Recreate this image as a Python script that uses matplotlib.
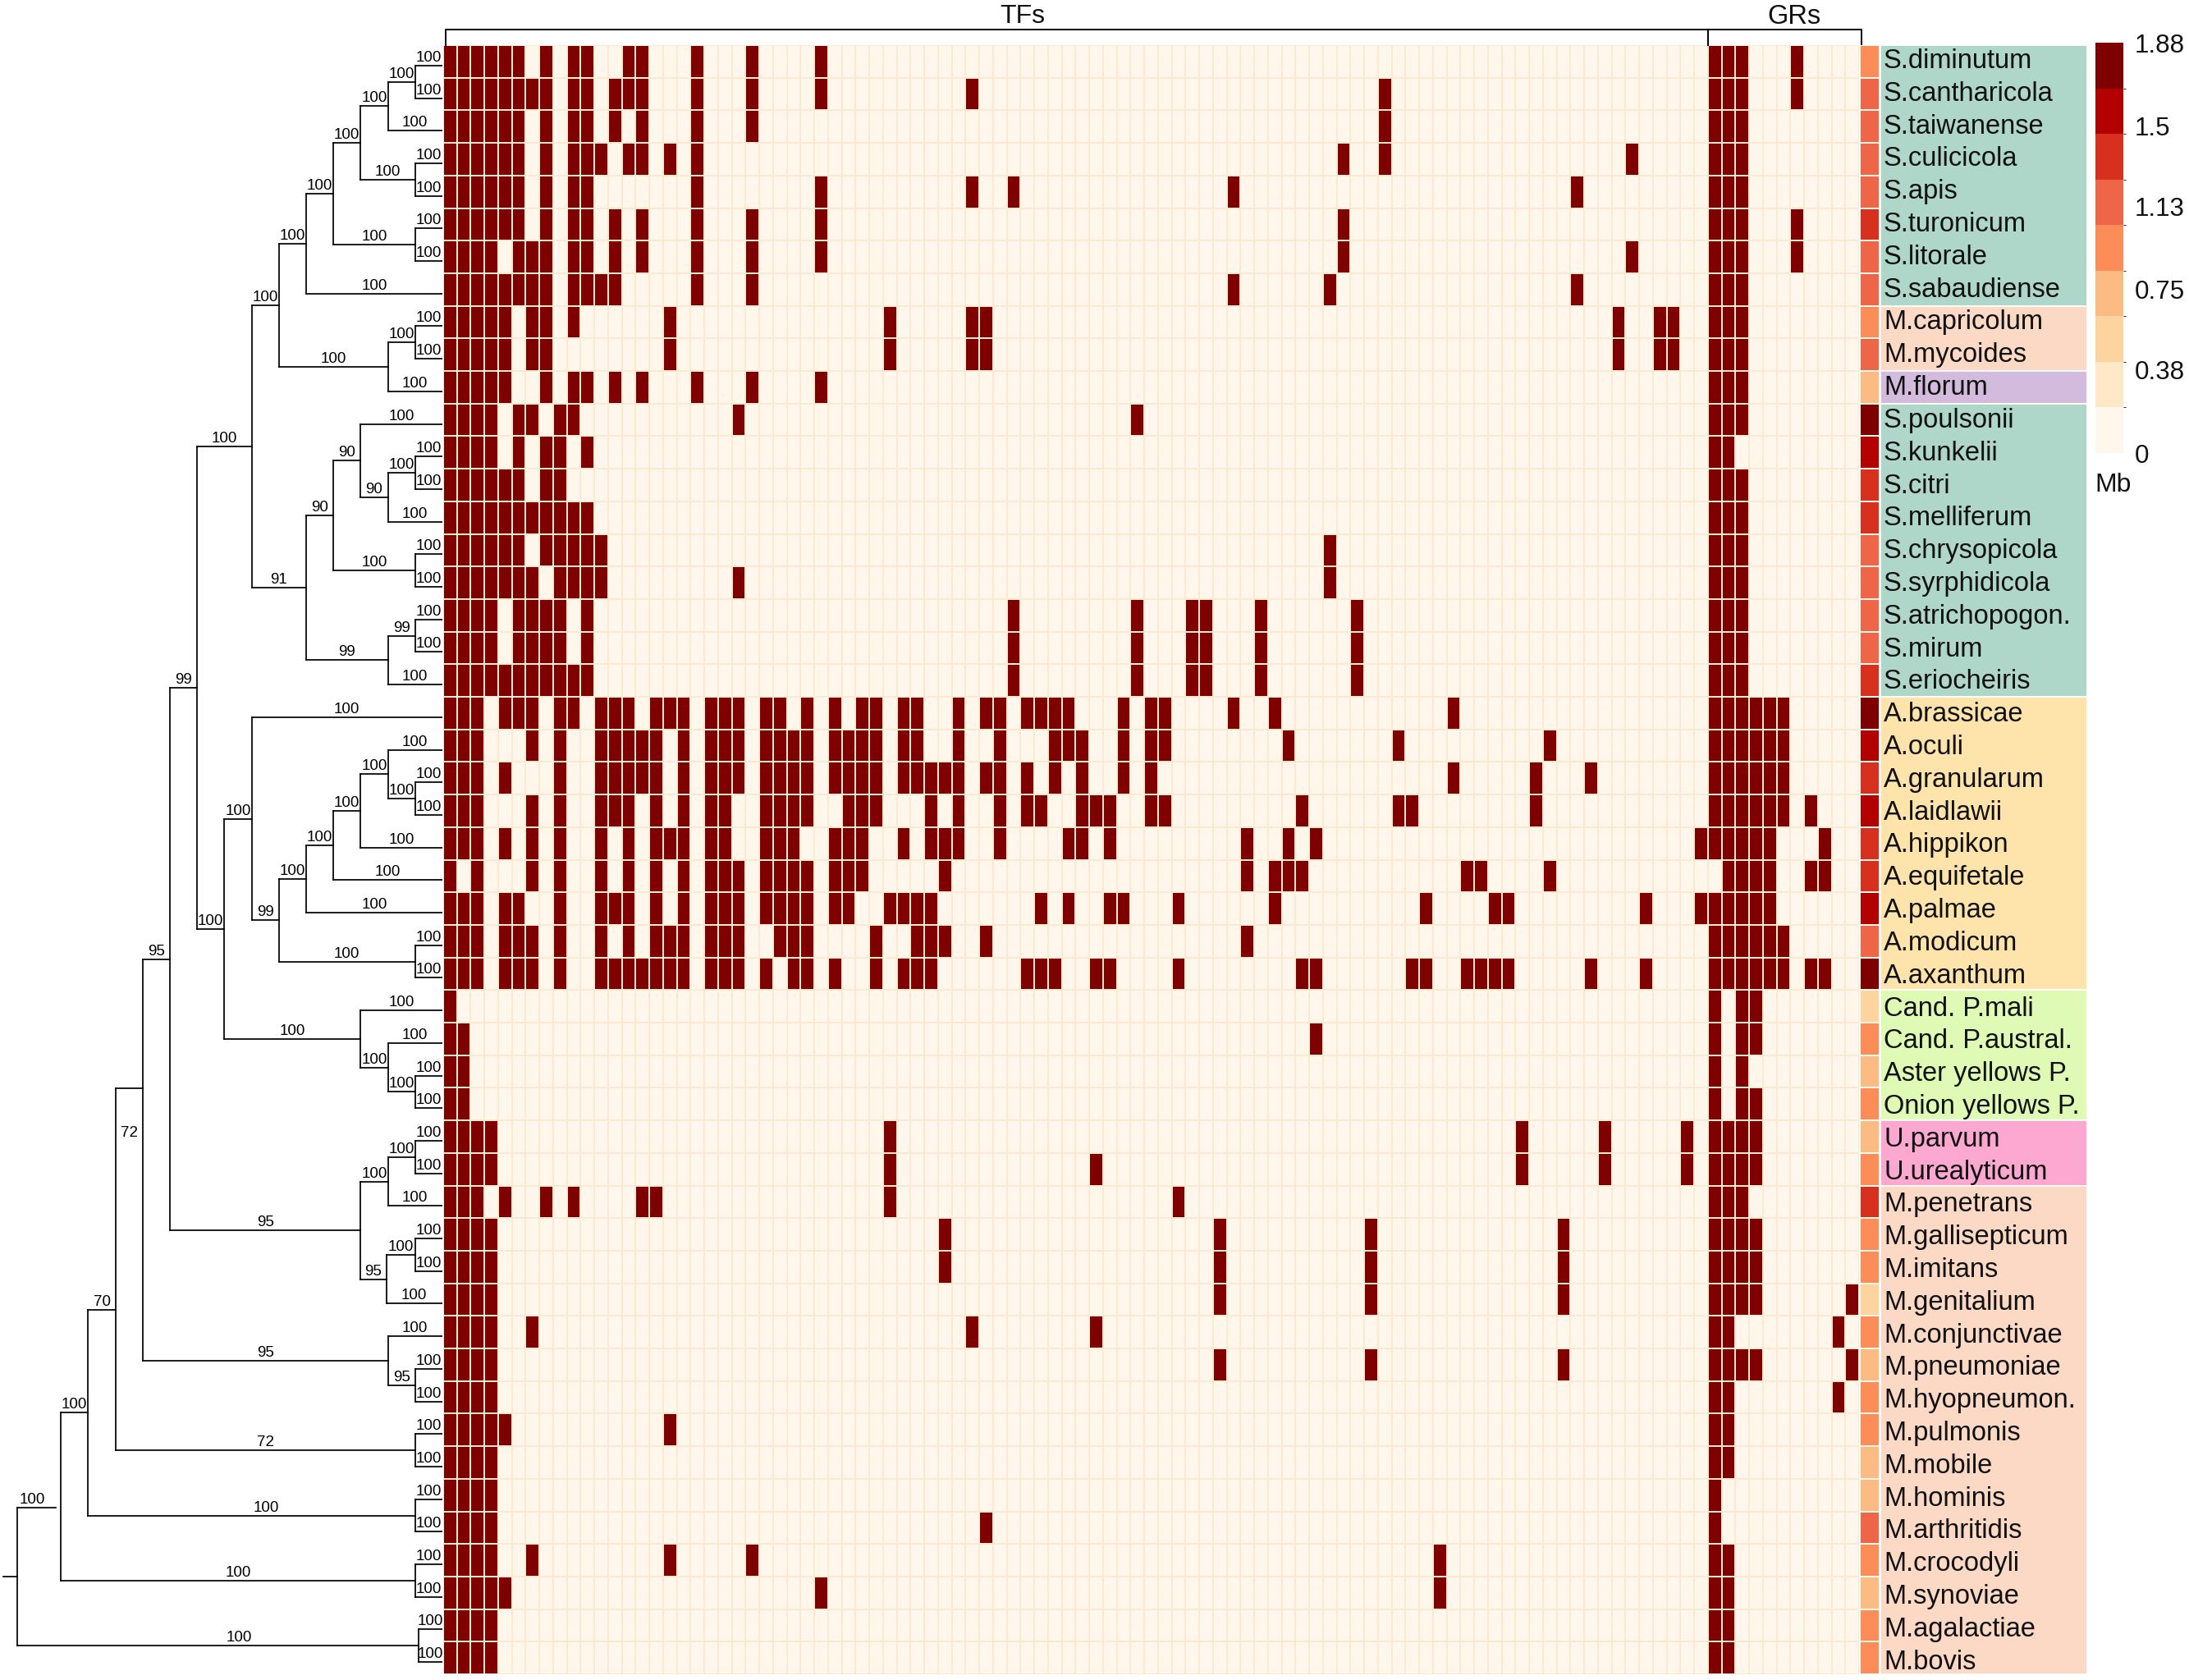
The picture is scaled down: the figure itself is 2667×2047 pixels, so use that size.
import numpy as np
import matplotlib
matplotlib.use("Agg")
import matplotlib.pyplot as plt
from matplotlib.colors import ListedColormap, BoundaryNorm
from matplotlib.cm import ScalarMappable

W, H = 2667, 2047

species = ["S.diminutum", "S.cantharicola", "S.taiwanense", "S.culicicola", "S.apis", "S.turonicum",
           "S.litorale", "S.sabaudiense", "M.capricolum", "M.mycoides", "M.florum", "S.poulsonii",
           "S.kunkelii", "S.citri", "S.melliferum", "S.chrysopicola", "S.syrphidicola", "S.atrichopogon.",
           "S.mirum", "S.eriocheiris", "A.brassicae", "A.oculi", "A.granularum", "A.laidlawii",
           "A.hippikon", "A.equifetale", "A.palmae", "A.modicum", "A.axanthum", "Cand. P.mali",
           "Cand. P.austral.", "Aster yellows P.", "Onion yellows P.", "U.parvum", "U.urealyticum",
           "M.penetrans", "M.gallisepticum", "M.imitans", "M.genitalium", "M.conjunctivae",
           "M.pneumoniae", "M.hyopneumon.", "M.pulmonis", "M.mobile", "M.hominis", "M.arthritidis",
           "M.crocodyli", "M.synoviae", "M.agalactiae", "M.bovis"]

# filled columns per species, TF columns are 0-91
tf_cols = ["0-5,7,9,10,13,14,18,22,27",
           "0-7,9,10,12-14,18,22,27,38,68",
           "0-5,7,9,10,12,14,18,22,68",
           "0-5,7,9-11,13,14,16,18,65,68,86",
           "0-5,7,9,10,18,27,38,41,57,82",
           "0-5,7,9,10,12,14,18,22,27,65",
           "0-3,5-7,9,10,12,14,18,22,27,65,86",
           "0-7,9-12,18,22,57,64,82",
           "0-4,6,7,9,16,32,38,39,85,88,89",
           "0-4,6,7,16,32,38,39,85,88,89",
           "0-4,7,9,10,12,14,18,22,27",
           "0-3,5,6,8,9,21,50",
           "0-3,5,7,8,10",
           "0-5,7,8",
           "0-10",
           "0-5,7-11,64",
           "0-6,8-11,21,64",
           "0-3,5-8,10,41,50,54,55,59,66",
           "0-3,5-8,10,41,50,54,55,59,66",
           "0-10,41,50,54,55,59,66",
           "0-2,4-6,8,9,11-13,15-17,19-21,23,24,26,28,30,31,33,34,37,39,40,42-45,49,51,52,57,60,73",
           "0-2,6,8,11-15,17,19-21,23-26,28-31,33,34,37,40,44-46,49,51,52,61,69,80",
           "0-2,4,8,11-15,17,19-21,23-26,28-31,33-37,39,40,42,44,46,49,51,73,79,83",
           "0-2,6,8,11-13,15,17,19,20,23-26,29-31,35,37,40,42,43,46-48,51,52,62,69,70,79",
           "0-2,4,6,8,11,13,15-17,19,20,23-25,28-30,33,35-37,40,45,46,48,58,61,63,91",
           "0,2,6,8,11,13,15,17,19-21,23-26,28-30,36,58,60-62,74,75,80",
           "0-2,4,5,8,11-13,15,17,19-21,23-26,28,29,32-35,43,45,48,49,53,60,71,76,77,87,91",
           "0-2,4-6,8,11,13,15-17,19-21,24-26,31,34-36,39,58",
           "0-2,4-6,8,11-17,19-21,23,25,26,28,31,33-35,42-44,47,48,53,62,63,70,71,74-77,83,87",
           "0",
           "0,1,63",
           "0,1",
           "0,1",
           "0-3,32,78,84,90",
           "0-3,32,47,78,84,90",
           "0-2,4,7,9,14,15,32,53",
           "0-3,36,56,67,81",
           "0-3,36,56,67,81",
           "0-3,56,67,81",
           "0-3,6,38,47",
           "0-3,56,67,81",
           "0-3",
           "0-4,16",
           "0-3",
           "0-3",
           "0-3,39",
           "0-3,6,16,22,72",
           "0-4,27,72",
           "0-3",
           "0-3"]

# GR columns are 0-10
gr_cols = ["0-2,6", "0-2,6", "0-2", "0-2", "0-2", "0-2,6", "0-2,6", "0-2", "0-2", "0-2",
           "0-2", "0-2", "0,1", "0-2", "0-2", "0-2", "0-2", "0-2", "0-2", "0-2",
           "0-5", "0-5", "0-5", "0-5,7", "0-4,8", "1-4,7,8", "0-4", "0-5", "0-5,7,8", "0,2,3",
           "0,2,3", "0,2", "0,2,3", "0-3", "0-3", "0-2", "0-3", "0-3", "0-3,10",
           "0,1,9", "0-3,10", "0,1,9", "0,1", "0,1", "0", "0", "0,1", "0,1", "0,1", "0,1"]

genome_mb = [0.94, 1.15, 1.15, 1.15, 1.15, 1.36, 1.15, 1.15, 0.94, 1.15,
             0.73, 1.78, 1.57, 1.36, 1.36, 1.15, 1.15, 1.15, 1.15, 1.36,
             1.78, 1.57, 1.36, 1.57, 1.36, 1.36, 1.57, 1.15, 1.78, 0.52,
             0.94, 0.73, 0.94, 0.73, 0.94, 1.36, 0.94, 0.94, 0.52, 0.94,
             0.73, 0.94, 0.94, 0.73, 0.73, 1.15, 0.94, 0.73, 0.94, 0.94]

group_names = ["spiro", "myco", "florum", "spiro", "achole", "phyto", "urea", "myco"]
group_sizes = [8, 2, 1, 9, 9, 4, 2, 15]
group_colors = {"spiro": "#aed7c9", "myco": "#fcd9c5", "florum": "#d2bbdc",
                "achole": "#fee3aa", "phyto": "#defab4", "urea": "#fca8d0"}

size_colors = ["#fff7ec", "#fee8c8", "#fdd49e", "#fdbb84", "#fc8d59", "#ef6548", "#d7301f", "#b30000", "#7f0000"]
size_ticks = [0, 0.38, 0.75, 1.13, 1.5, 1.88]
size_tick_labels = ["0", "0.38", "0.75", "1.13", "1.5", "1.88"]

# tree: (depth, support, child, child, extras), a plain string is a tip and its support
# extras hold the few branches the original drew away from the midpoint
c = ("100", "100")
clade1 = (4, "100", (3, "100", (2, "100", (1, "100", *c), "100"), (1, "100", *c)), (1, "100", *c))
clade2 = (6, "100", (5, "100", clade1, "100"), (2, "100", (1, "100", *c), "100"))
clade3 = (5, "91", (4, "90", (3, "90", "100", (2, "90", (1, "100", *c), "100")), (1, "100", *c)),
          (2, "99", (1, "99", *c), "100"))
spiro = (7, "100", clade2, clade3)
achole = (7, "100", "100",
          (6, "99", (5, "100", (4, "100", (3, "100", (2, "100", "100", (1, "100", *c)), "100"), "100"), "100"),
           (1, "100", *c)))
phyto = (3, "100", "100", (2, "100", "100", (1, "100", *c)))
upper = (9, "99", spiro, (8, "100", achole, phyto))
myco = (3, "95", (2, "100", (1, "100", *c), "100"), (2.06, "95", (1, "100", *c), "100"))
n11 = (11, "72", (10, "95", upper, myco), (2, "95", "100", (1, "95", *c)), {"stem_row": 31.4, "label_row": 33.0})
n12 = (12, "70", n11, (1, "72", *c), {"stem_row": 38.2})
n13 = (13, "100", n12, (1, "100", *c, {"label_depth": 6.48}))
n14 = (14, "100", n13, (1, "100", *c), {"stem_row": 44.26, "stem_end": 14.2, "label_depth": 15.05})
tree = (15.6, None, n14, (0.88, "100", *c, {"label_depth": 7.47}))


def parse_cols(text):
    cols = []
    for part in text.split(","):
        if "-" in part:
            a, b = part.split("-")
            cols += list(range(int(a), int(b) + 1))
        else:
            cols.append(int(part))
    return cols


def px_axes(fig, left, top, right, bottom):
    ax = fig.add_axes([left / W, 1 - bottom / H, (right - left) / W, (bottom - top) / H])
    ax.axis("off")
    return ax


def draw_node(ax, node, parent_depth, counter):
    extras = {}
    if isinstance(node, str):
        depth, support = 0, node
        y = counter[0]
        counter[0] += 1
    else:
        depth, support, left, right = node[:4]
        if len(node) > 4:
            extras = node[4]
        y1 = draw_node(ax, left, depth, counter)
        y2 = draw_node(ax, right, depth, counter)
        y = extras.get("stem_row", (y1 + y2) / 2)
        ax.plot([depth, depth], [y1, y2], color="black", lw=1.25, solid_capstyle="projecting")
    stem_end = extras.get("stem_end", depth)
    ax.plot([parent_depth, stem_end], [y, y], color="black", lw=1.25, solid_capstyle="projecting")
    if support:
        lx = extras.get("label_depth", (parent_depth + depth) / 2)
        ly = extras.get("label_row", y)
        ax.annotate(support, (lx, ly), xytext=(0, 3.6), textcoords="offset points",
                    ha="center", va="baseline", fontsize=13.5, annotation_clip=False)
    return y


plt.rcParams["font.family"] = ["Liberation Sans", "DejaVu Sans"]
fig = plt.figure(figsize=(W / 100, H / 100), dpi=100, facecolor="white")

n_rows = len(species)
n_tf, n_gr = 92, 11

# tree
ax_tree = px_axes(fig, 0, 60, 539, 2045)
ax_tree.set_xlim(539 / 33.2, 0)
ax_tree.set_ylim(n_rows - 0.5, -0.5)
draw_node(ax_tree, tree, 16.1, [0])

# presence matrix
matrix = np.zeros((n_rows, n_tf + n_gr))
for i in range(n_rows):
    matrix[i, parse_cols(tf_cols[i])] = 1
    matrix[i, [n_tf + k for k in parse_cols(gr_cols[i])]] = 1

ax_heat = px_axes(fig, 540, 55, 2265, 2040)
ax_heat.pcolormesh(matrix, cmap=ListedColormap(["#fff7ec", "#7f0000"]), vmin=0, vmax=1,
                   edgecolors="#fde9d0", linewidth=1.2)
ax_heat.set_xlim(0, n_tf + n_gr)
ax_heat.set_ylim(n_rows, 0)

# brackets over the two blocks
ax_heat.plot([0.15, 0.15, n_tf, n_tf], [0, -0.47, -0.47, 0], color="black", lw=1.4, clip_on=False)
ax_heat.plot([n_tf, n_tf + n_gr + 0.2, n_tf + n_gr + 0.2], [-0.47, -0.47, 0.3], color="black", lw=1.4, clip_on=False)
ax_heat.text(42.15, -0.69, "TFs", ha="center", va="baseline", fontsize=23, color="#111111", clip_on=False)
ax_heat.text(98.27, -0.66, "GRs", ha="center", va="baseline", fontsize=23.5, color="#111111", clip_on=False)

# genome size
size_cmap = ListedColormap(size_colors)
size_norm = BoundaryNorm(np.linspace(0, 1.88, 10), 9)
ax_size = px_axes(fig, 2266, 55, 2290, 2040)
ax_size.pcolormesh(np.array(genome_mb).reshape(-1, 1), cmap=size_cmap, norm=size_norm,
                   edgecolors="#fff7ec", linewidth=1.2)
ax_size.set_ylim(n_rows, 0)

# names on coloured groups
ax_names = px_axes(fig, 2290.5, 55, 2542.5, 2040)
ax_names.set_xlim(0, 1)
ax_names.set_ylim(n_rows, 0)
start = 0
for name, size in zip(group_names, group_sizes):
    ax_names.barh(start + size / 2, 1, height=size, left=0, color=group_colors[name],
                  edgecolor="white", linewidth=1.2)
    start += size
for i, label in enumerate(species):
    ax_names.text(0.018, i * 1.0028 + 0.705, label, ha="left", va="baseline", fontsize=23.5, color="#111111")

# colour key
ax_key = fig.add_axes([2553 / W, 1 - 552 / H, 34 / W, 500 / H])
bar = fig.colorbar(ScalarMappable(norm=size_norm, cmap=size_cmap), cax=ax_key, spacing="proportional",
                   ticks=size_ticks)
bar.ax.set_yticklabels(size_tick_labels, fontsize=22.6, color="#111111")
bar.ax.tick_params(length=0, pad=10)
bar.outline.set_visible(False)
fig.text(2552 / W, 1 - 591 / H, "Mb", ha="left", va="center", fontsize=23, color="#111111")

fig.savefig("out.png", dpi=100, facecolor="white")
